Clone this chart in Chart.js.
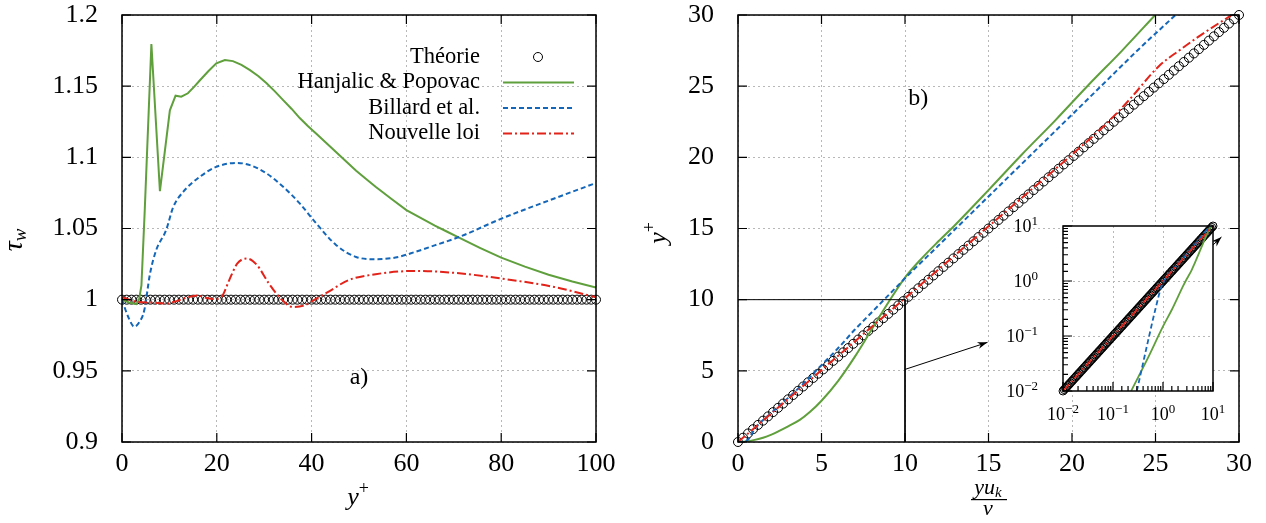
<!DOCTYPE html>
<html>
<head>
<meta charset="utf-8">
<script src="https://cdn.jsdelivr.net/npm/chart.js@4.4.1/dist/chart.umd.min.js"></script>
<style>
html, body { margin:0; padding:0; background:#fff; width:1266px; height:523px; overflow:hidden; }
canvas { position:absolute; }
#c1 { left:0; top:0; }
#c2 { left:640px; top:0; }
#c3 { left:990px; top:210px; }
</style>
</head>
<body>
<canvas id="c1" width="620" height="523"></canvas>
<canvas id="c2" width="626" height="523"></canvas>
<canvas id="c3" width="235" height="220"></canvas>
<script>
// ---- panel a) : tau_w vs y+
const theoAX = [0,1,2,3,4,5,6,7,8,9,10,11,12,13,14,15,16,17,18,19,20,21,22,23,24,25,26,27,28,29,30,31,32,33,34,35,36,37,38,39,40,41,42,43,44,45,46,47,48,49,50,51,52,53,54,55,56,57,58,59,60,61,62,63,64,65,66,67,68,69,70,71,72,73,74,75,76,77,78,79,80,81,82,83,84,85,86,87,88,89,90,91,92,93,94,95,96,97,98,99,100]
const theoAY = [1,1,1,1,1,1,1,1,1,1,1,1,1,1,1,1,1,1,1,1,1,1,1,1,1,1,1,1,1,1,1,1,1,1,1,1,1,1,1,1,1,1,1,1,1,1,1,1,1,1,1,1,1,1,1,1,1,1,1,1,1,1,1,1,1,1,1,1,1,1,1,1,1,1,1,1,1,1,1,1,1,1,1,1,1,1,1,1,1,1,1,1,1,1,1,1,1,1,1,1,1]

const hpAX = [0, 1.5, 3.0, 3.6, 4.1, 4.8, 6.2, 8.0, 10.1, 11.3, 12.5, 13.9, 15.2, 16.4, 18.2, 19.9, 21.7, 23.4, 25.2, 27.0, 28.8, 30.5, 32.2, 34.0, 35.8, 37.5, 39.2, 41.0, 43.1, 45.2, 47.3, 49.4, 51.5, 53.5, 56.8, 60, 63, 66, 68.5, 71, 75.5, 80, 85, 90, 95, 100]
const hpAY = [1.0, 0.998, 0.9968, 1.0, 1.01, 1.063, 1.1796, 1.0762, 1.133, 1.1433, 1.1426, 1.145, 1.1495, 1.154, 1.1605, 1.166, 1.1684, 1.1676, 1.165, 1.1613, 1.157, 1.152, 1.1465, 1.1402, 1.134, 1.1276, 1.122, 1.1165, 1.11, 1.1035, 1.097, 1.0905, 1.0848, 1.0793, 1.0709, 1.0629, 1.0574, 1.052, 1.0479, 1.0437, 1.0364, 1.0295, 1.0232, 1.0175, 1.0128, 1.0085]

const blAX = [0, 1.3, 2.6, 3.6, 4.7, 5.9, 7.2, 9.3, 10.8, 12.9, 16.4, 19.9, 24.2, 27.0, 30.5, 34.0, 37.5, 41.0, 45.2, 49.4, 53.5, 57.7, 61.9, 66.1, 71.1, 80.1, 91.2, 100]
const blAY = [1.0, 0.988, 0.981, 0.984, 0.9925, 1.018, 1.0347, 1.0488, 1.065, 1.0757, 1.0863, 1.0933, 1.0961, 1.0945, 1.0887, 1.0793, 1.0676, 1.0535, 1.0383, 1.030, 1.0284, 1.0296, 1.0336, 1.0383, 1.044, 1.057, 1.0711, 1.082]

const nlAX = [0, 3.4, 6, 9.3, 11.5, 13.4, 15.9, 17.5, 19.3, 21.0, 22.6, 24.3, 26.4, 28.5, 31.0, 33.5, 36.0, 38.5, 41.0, 43.5, 47.7, 53.5, 61.9, 70.3, 80.1, 91.2, 100]
const nlAY = [1.0017, 0.9984, 0.998, 0.9973, 0.999, 1.0012, 1.003, 1.0015, 1.0004, 1.002, 1.0136, 1.0253, 1.0289, 1.0242, 1.0113, 1.0007, 0.9949, 0.996, 1.0007, 1.0054, 1.0136, 1.0179, 1.0202, 1.0188, 1.0148, 1.0089, 1.0017]

// ---- panel b) : y+ vs y u_k / nu
const theoB = [0,0.3,0.6,0.9,1.2,1.5,1.8,2.1,2.4,2.7,3,3.3,3.6,3.9,4.2,4.5,4.8,5.1,5.4,5.7,6,6.3,6.6,6.9,7.2,7.5,7.8,8.1,8.4,8.7,9,9.3,9.6,9.9,10.2,10.5,10.8,11.1,11.4,11.7,12,12.3,12.6,12.9,13.2,13.5,13.8,14.1,14.4,14.7,15,15.3,15.6,15.9,16.2,16.5,16.8,17.1,17.4,17.7,18,18.3,18.6,18.9,19.2,19.5,19.8,20.1,20.4,20.7,21,21.3,21.6,21.9,22.2,22.5,22.8,23.1,23.4,23.7,24,24.3,24.6,24.9,25.2,25.5,25.8,26.1,26.4,26.7,27,27.3,27.6,27.9,28.2,28.5,28.8,29.1,29.4,29.7,30]

const hpBX = [0, 0.23, 0.5, 1, 1.5, 2, 2.5, 3, 3.7, 4.3, 5, 6, 7, 8, 9, 10, 11, 12, 13, 15, 17, 19, 21, 23, 24.98]
const hpBY = [0, 0.01, 0.04, 0.15, 0.3, 0.52, 0.8, 1.1, 1.55, 2.1, 2.9, 4.3, 6.0, 7.9, 9.8, 11.55, 12.9, 14.1, 15.25, 17.7, 20.2, 22.6, 25.1, 27.5, 30]

const blBX = [0, 0.3, 0.5, 0.7, 0.93, 1.2, 2, 3, 4, 5, 6, 7, 8, 9, 10, 12, 14, 16, 18, 20, 22, 24, 26.2]
const blBY = [0, 0.01, 0.08, 0.3, 0.79, 1.2, 2.05, 3.1, 4.2, 5.4, 6.6, 7.9, 9.1, 10.3, 11.5, 13.8, 16.1, 18.4, 20.7, 23.0, 25.3, 27.6, 30]

const nlBX = [0, 0.01, 0.1, 1, 5, 10, 15, 20, 22, 23.4, 25.2, 26.47, 27.6, 29.56]
const nlBY = [0, 0.01, 0.1, 1, 5.05, 10.1, 15.15, 20.2, 22.3, 24.0, 26.4, 27.55, 28.5, 30]

// zoom box, arrows
const boxX = [0, 10, 10]
const boxY = [10, 10, 0]
const arrow1X = [10, 14.94]
const arrow1Y = [5.1, 7.0]
const arrow2X = [28.45, 28.95]
const arrow2Y = [13.85, 14.4]

// inset (log-log), theory points on y = x
const insetTheo = [
  0.01,0.0106,0.0112,0.0119,0.0126,0.0133,0.0141,0.015,0.0158,0.0168,0.0178,0.0188,0.02,0.0211,0.0224,0.0237,0.0251,0.0266,0.0282,0.0299,
  0.0316,0.0335,0.0355,0.0376,0.0398,0.0422,0.0447,0.0473,0.0501,0.0531,0.0562,0.0596,0.0631,0.0668,0.0708,0.075,0.0794,0.0841,0.0891,0.0944,
  0.1,0.106,0.112,0.119,0.126,0.133,0.141,0.15,0.158,0.168,0.178,0.188,0.2,0.211,0.224,0.237,0.251,0.266,0.282,0.299,
  0.316,0.335,0.355,0.376,0.398,0.422,0.447,0.473,0.501,0.531,0.562,0.596,0.631,0.668,0.708,0.75,0.794,0.841,0.891,0.944,
  1,1.06,1.12,1.19,1.26,1.33,1.41,1.5,1.58,1.68,1.78,1.88,2,2.11,2.24,2.37,2.51,2.66,2.82,2.99,
  3.16,3.35,3.55,3.76,3.98,4.22,4.47,4.73,5.01,5.31,5.62,5.96,6.31,6.68,7.08,7.5,7.94,8.41,8.91,9.44,10]
const insetTicks = [0.01, 0.1, 1, 10]
const insetExp = ['\u22122', '\u22121', '0', '1']

const GREEN = '#5f9f3c'
const BLUE = '#1466b8'
const RED = '#e2231a'
const FONT = "'Liberation Serif', 'DejaVu Serif', serif"

function zip(xs, ys) { return xs.map((x, i) => ({x: x, y: ys[i]})) }
function pos(p) { return p.filter(o => o.x > 0 && o.y > 0) }

// frame + inward ticks
const framePlugin = {
  id: 'frame',
  afterDraw(chart, args, o) {
    const {ctx, chartArea: a} = chart
    const xs = chart.scales.x, ys = chart.scales.y
    ctx.save()
    ctx.strokeStyle = '#000'
    ctx.lineWidth = 1.5
    ctx.strokeRect(a.left, a.top, a.right - a.left, a.bottom - a.top)
    ctx.lineWidth = 1.2
    ctx.beginPath()
    xs.ticks.forEach(t => {
      const px = xs.getPixelForValue(t.value)
      let len = o.len
      if (o.log) len = Number.isInteger(Math.round(Math.log10(t.value) * 1000) / 1000) ? 9 : 5
      ctx.moveTo(px, a.bottom); ctx.lineTo(px, a.bottom - len)
      if (o.mirror) { ctx.moveTo(px, a.top); ctx.lineTo(px, a.top + len) }
    })
    ys.ticks.forEach(t => {
      const py = ys.getPixelForValue(t.value)
      let len = o.len
      if (o.log) len = Number.isInteger(Math.round(Math.log10(t.value) * 1000) / 1000) ? 9 : 5
      ctx.moveTo(a.left, py); ctx.lineTo(a.left + len, py)
      if (o.mirror) { ctx.moveTo(a.right, py); ctx.lineTo(a.right - len, py) }
    })
    ctx.stroke()
    ctx.restore()
  }
}

// white background for the inset plot area
const whitePlugin = {
  id: 'white',
  beforeDraw(chart, args, o) {
    if (!o.on) return
    const {ctx, chartArea: a} = chart
    ctx.save()
    ctx.fillStyle = '#fff'
    ctx.fillRect(a.left, a.top, a.right - a.left, a.bottom - a.top)
    ctx.restore()
  }
}

// arrow heads on datasets flagged arrow:true
const arrowPlugin = {
  id: 'arrows',
  afterDatasetsDraw(chart) {
    const ctx = chart.ctx
    chart.data.datasets.forEach((ds, i) => {
      if (!ds.arrow) return
      const pts = chart.getDatasetMeta(i).data
      const p1 = pts[pts.length - 2], p2 = pts[pts.length - 1]
      const ang = Math.atan2(p2.y - p1.y, p2.x - p1.x)
      ctx.save()
      ctx.translate(p2.x, p2.y)
      ctx.rotate(ang)
      ctx.fillStyle = '#000'
      ctx.beginPath()
      ctx.moveTo(0, 0); ctx.lineTo(-10, -3.5); ctx.lineTo(-7, 0); ctx.lineTo(-10, 3.5)
      ctx.closePath(); ctx.fill()
      ctx.restore()
    })
  }
}

// text with optional sub / superscript
function rich(ctx, parts, x, y, align) {
  let w = 0
  parts.forEach(p => { ctx.font = p.f; w += ctx.measureText(p.t).width })
  let cx = align === 'right' ? x - w : (align === 'left' ? x : x - w / 2)
  parts.forEach(p => {
    ctx.font = p.f
    ctx.fillText(p.t, cx, y + (p.dy || 0))
    cx += ctx.measureText(p.t).width
  })
}

const labelsPlugin = {
  id: 'labels',
  afterDraw(chart, args, o) {
    const ctx = chart.ctx
    const xs = chart.scales.x, ys = chart.scales.y
    ctx.save()
    ctx.fillStyle = '#000'
    ctx.textBaseline = 'alphabetic'
    ctx.textAlign = 'left'
    if (o.panel) {
      ctx.font = '24px ' + FONT
      ctx.textAlign = 'center'
      ctx.textBaseline = 'middle'
      ctx.fillText(o.panel.text, xs.getPixelForValue(o.panel.x), ys.getPixelForValue(o.panel.y))
      ctx.textAlign = 'left'
      ctx.textBaseline = 'alphabetic'
    }
    if (o.titles === 'a') {
      rich(ctx, [{t: 'y', f: 'italic 26px ' + FONT}, {t: '+', f: '18px ' + FONT, dy: -11}], 358, 505, 'center')
      ctx.translate(22, 240); ctx.rotate(-Math.PI / 2)
      rich(ctx, [{t: '\u03c4', f: 'italic 28px ' + FONT}, {t: 'w', f: 'italic 19px ' + FONT, dy: 4}], 0, 0, 'center')
    }
    if (o.titles === 'b') {
      rich(ctx, [{t: 'yu', f: 'italic 22px ' + FONT}, {t: 'k', f: 'italic 15px ' + FONT, dy: 3}], 348, 494, 'center')
      ctx.fillRect(331, 499, 36, 1.2)
      rich(ctx, [{t: '\u03bd', f: 'italic 22px ' + FONT}], 348, 515, 'center')
      ctx.translate(26, 233); ctx.rotate(-Math.PI / 2)
      rich(ctx, [{t: 'y', f: 'italic 26px ' + FONT}, {t: '+', f: '18px ' + FONT, dy: -11}], 0, 0, 'center')
    }
    ctx.restore()
  }
}

// legend drawn inside panel a), text right aligned and sample on the right
const legendPlugin = {
  id: 'rlegend',
  afterDraw(chart, args, o) {
    if (!o.on) return
    const {ctx, chartArea: a} = chart
    ctx.save()
    ctx.font = '22.5px ' + FONT
    ctx.textAlign = 'right'
    ctx.textBaseline = 'middle'
    chart.data.datasets.forEach((ds, i) => {
      const y = a.top + 42 + i * 25.5
      ctx.fillStyle = '#000'
      ctx.fillText(ds.label, a.left + 358, y)
      if (ds.showLine === false) {
        ctx.strokeStyle = '#000'; ctx.lineWidth = 1
        ctx.beginPath(); ctx.arc(a.left + 416, y, 4.5, 0, Math.PI * 2); ctx.stroke()
      } else {
        ctx.strokeStyle = ds.borderColor; ctx.lineWidth = ds.borderWidth
        ctx.setLineDash(ds.borderDash || [])
        ctx.beginPath(); ctx.moveTo(a.left + 381, y); ctx.lineTo(a.left + 452, y); ctx.stroke()
        ctx.setLineDash([])
      }
    })
    ctx.restore()
  }
}

// inset tick labels 10^n
const powLabelsPlugin = {
  id: 'powlabels',
  afterDraw(chart, args, o) {
    if (!o.on) return
    const {ctx, chartArea: a} = chart
    const xs = chart.scales.x, ys = chart.scales.y
    ctx.save()
    ctx.fillStyle = '#000'
    ctx.textBaseline = 'alphabetic'
    insetTicks.forEach((v, i) => {
      const parts = [{t: '10', f: '18px ' + FONT}, {t: insetExp[i], f: '13px ' + FONT, dy: -7}]
      rich(ctx, parts, xs.getPixelForValue(v), a.bottom + 29, 'center')
      rich(ctx, parts, a.left - 25, ys.getPixelForValue(v) + 6, 'right')
    })
    ctx.restore()
  }
}

Chart.register(framePlugin, whitePlugin, arrowPlugin, labelsPlugin, legendPlugin, powLabelsPlugin)
Chart.defaults.font.family = FONT
Chart.defaults.color = '#000'

// gap between axis and labels is done with invisible tick marks,
// so the label padding does not push the plot area inwards
function axis(min, max, step, size, gap, fmt) {
  return {
    type: 'linear', min: min, max: max,
    afterFit: s => { if (s.isHorizontal()) s.height = size; else s.width = size },
    ticks: {stepSize: step, font: {size: 26, lineHeight: 1}, color: '#000', padding: 0, callback: fmt || (v => String(+v.toFixed(2)))},
    grid: {color: '#b8b8b8', lineWidth: 1, drawTicks: true, tickLength: gap, tickColor: 'rgba(0,0,0,0)'},
    border: {display: false, dash: [2, 3]}
  }
}

function lineDs(label, data, color, dash, extra) {
  return Object.assign({label: label, data: data, showLine: true, borderColor: color, borderWidth: 2,
    borderDash: dash, pointRadius: 0, fill: false, cubicInterpolationMode: 'monotone'}, extra || {})
}

function theoDs(data, r) {
  return {label: 'Th\u00e9orie', data: data, showLine: false, pointRadius: r, pointBorderColor: '#000',
    pointBackgroundColor: 'rgba(0,0,0,0)', pointBorderWidth: 1, order: 10, clip: false}
}

const common = {responsive: false, animation: false, devicePixelRatio: 1, events: []}

// panel a)
new Chart(document.getElementById('c1'), {
  type: 'scatter',
  data: {datasets: [
    theoDs(zip(theoAX, theoAY), 4.5),
    lineDs('Hanjalic & Popovac', zip(hpAX, hpAY), GREEN, [], {order: 3, cubicInterpolationMode: 'default', tension: 0}),
    lineDs('Billard et al.', zip(blAX, blAY), BLUE, [5, 3], {order: 2}),
    lineDs('Nouvelle loi', zip(nlAX, nlAY), RED, [9, 3, 2, 3], {order: 1})
  ]},
  options: Object.assign({}, common, {
    layout: {padding: {left: 0, top: 15, right: 24, bottom: 0}},
    scales: {x: axis(0, 100, 20, 81, 9), y: axis(0.9, 1.2, 0.05, 122, 24)},
    plugins: {legend: {display: false}, tooltip: {enabled: false},
      frame: {len: 9, mirror: true},
      labels: {titles: 'a', panel: {text: 'a)', x: 50, y: 0.945}},
      rlegend: {on: true}}
  })
})

// panel b)
new Chart(document.getElementById('c2'), {
  type: 'scatter',
  data: {datasets: [
    theoDs(zip(theoB, theoB), 4.5),
    lineDs('Hanjalic & Popovac', zip(hpBX, hpBY), GREEN, [], {order: 3}),
    lineDs('Billard et al.', zip(blBX, blBY), BLUE, [5, 3], {order: 2}),
    lineDs('Nouvelle loi', zip(nlBX, nlBY), RED, [9, 3, 2, 3], {order: 1}),
    lineDs('box', zip(boxX, boxY), '#000', [], {borderWidth: 1, cubicInterpolationMode: 'default', tension: 0, order: 0}),
    lineDs('arrow1', zip(arrow1X, arrow1Y), '#000', [], {borderWidth: 1, tension: 0, order: 0, arrow: true}),
    lineDs('arrow2', zip(arrow2X, arrow2Y), '#000', [], {borderWidth: 1, tension: 0, order: 0, arrow: true, clip: false})
  ]},
  options: Object.assign({}, common, {
    layout: {padding: {left: 0, top: 15, right: 27, bottom: 0}},
    scales: {x: axis(0, 30, 5, 81, 9), y: axis(0, 30, 5, 98, 24, v => String(v))},
    plugins: {legend: {display: false}, tooltip: {enabled: false},
      frame: {len: 9, mirror: true},
      labels: {titles: 'b', panel: {text: 'b)', x: 10.8, y: 24.1}}}
  })
})

// inset
function logAxis(size) {
  return {
    type: 'logarithmic', min: 0.01, max: 10,
    afterFit: s => { if (s.isHorizontal()) s.height = size; else s.width = size },
    ticks: {display: false},
    grid: {drawTicks: false, lineWidth: 1,
      color: c => (c.tick && (Math.abs(c.tick.value - 0.1) < 1e-9 || Math.abs(c.tick.value - 1) < 1e-9)) ? '#b8b8b8' : 'rgba(0,0,0,0)'},
    border: {display: false, dash: [2, 3]}
  }
}
new Chart(document.getElementById('c3'), {
  type: 'scatter',
  data: {datasets: [
    theoDs(zip(insetTheo, insetTheo), 4),
    lineDs('Hanjalic & Popovac', pos(zip(hpBX, hpBY)), GREEN, [], {order: 3, borderWidth: 1.8}),
    lineDs('Billard et al.', pos(zip(blBX, blBY)), BLUE, [5, 3], {order: 2, borderWidth: 1.8}),
    lineDs('Nouvelle loi', pos(zip(nlBX, nlBY)), RED, [9, 3, 2, 3], {order: 1, borderWidth: 1.8})
  ]},
  options: Object.assign({}, common, {
    layout: {padding: {left: 0, top: 16, right: 12, bottom: 0}},
    scales: {x: logAxis(39), y: logAxis(73)},
    plugins: {legend: {display: false}, tooltip: {enabled: false},
      white: {on: true},
      frame: {len: 9, mirror: false, log: true},
      powlabels: {on: true}}
  })
})
</script>
</body>
</html>
